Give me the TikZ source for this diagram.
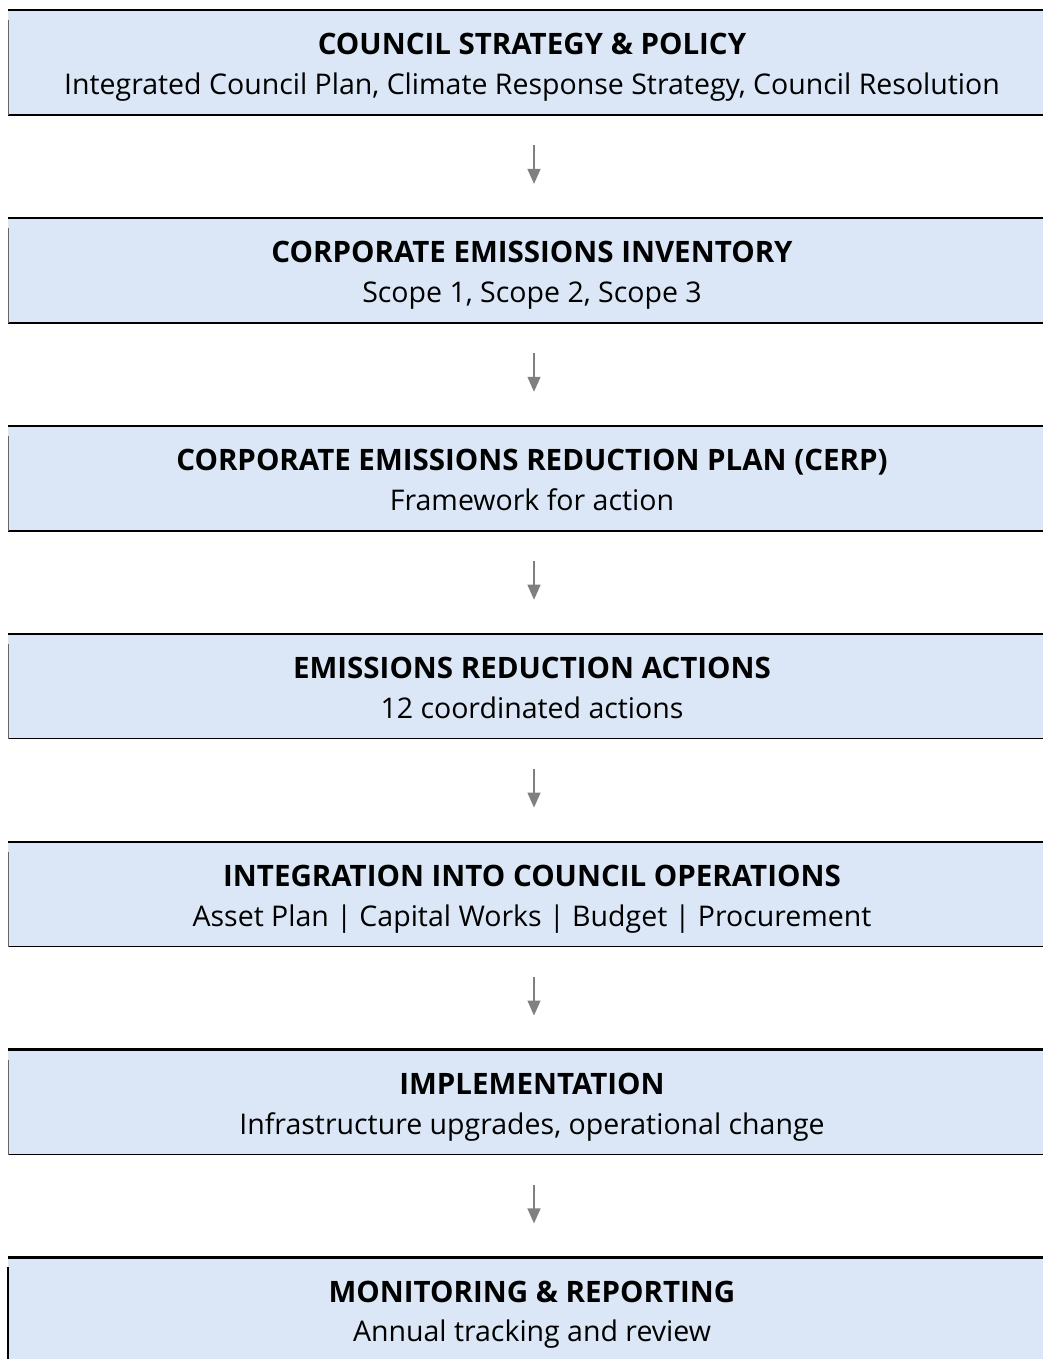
\documentclass[tikz,border=0pt]{standalone}
\usepackage{fontspec}
\setmainfont{Open Sans}
\usetikzlibrary{arrows.meta}
\definecolor{boxfill}{RGB}{219,231,246}
\definecolor{arrowgray}{RGB}{128,128,128}
\begin{document}
\begin{tikzpicture}[x=1pt,y=-1pt,
  stagebox/.style={fill=boxfill, minimum width=1048pt, minimum height=105pt,
    inner sep=0pt, outer sep=0pt, anchor=north west},
  titletext/.style={anchor=base, inner sep=0pt,
    font=\fontsize{29.5}{34}\selectfont\bfseries},
  subtext/.style={anchor=base, inner sep=0pt,
    font=\fontsize{28.5}{33}\selectfont},
  flow/.style={draw=arrowgray, line width=1.3pt,
    -{Triangle[length=15pt,width=13pt]}, shorten <=30pt, shorten >=34pt},
  topedge/.style={draw=black, line width=2.2pt},
  bottomedge/.style={draw=black, line width=1.5pt},
  sideedge/.style={draw=black!60, line width=1pt}]
\useasboundingbox (0,0) rectangle (1042,1359);

% stages of the flow, top to bottom
\foreach \i/\ttl/\sub in {
  1/{COUNCIL STRATEGY \& POLICY}/{Integrated Council Plan, Climate Response Strategy, Council Resolution},
  2/{CORPORATE EMISSIONS INVENTORY}/{Scope 1, Scope 2, Scope 3},
  3/{CORPORATE EMISSIONS REDUCTION PLAN (CERP)}/{Framework for action},
  4/{EMISSIONS REDUCTION ACTIONS}/{12 coordinated actions},
  5/{INTEGRATION INTO COUNCIL OPERATIONS}/{Asset Plan | Capital Works | Budget | Procurement},
  6/{IMPLEMENTATION}/{Infrastructure upgrades, operational change}}{
  \pgfmathsetmacro{\top}{10+207.9*(\i-1)}
  \node[stagebox] (b\i) at (8,\top) {};
  \node[titletext] (t\i) at ([yshift=-45pt]b\i.north) {\ttl};
  \node[subtext] (s\i) at ([yshift=-84.5pt]b\i.north) {\sub};
  \draw[topedge] (b\i.north west) -- (b\i.north east);
  \draw[bottomedge] (b\i.south west) -- (b\i.south east);
  \draw[sideedge] ([yshift=-10pt]b\i.north west) -- (b\i.south west);
}

% last stage runs off the bottom of the page
\node[stagebox, minimum height=115pt] (b7) at (8,1257.4) {};
\node[titletext] (t7) at ([yshift=-45pt]b7.north) {MONITORING \& REPORTING};
\node[subtext] (s7) at ([yshift=-84.5pt]b7.north) {Annual tracking and review};
\draw[topedge] (b7.north west) -- (b7.north east);
\draw[draw=black, line width=1.5pt] ([yshift=-10pt]b7.north west) -- (b7.south west);

% connectors between stages
\foreach \i [evaluate=\i as \j using int(\i+1)] in {1,...,6}
  \draw[flow] ([xshift=2pt]b\i.south) -- ([xshift=2pt]b\j.north);
\end{tikzpicture}
\end{document}
